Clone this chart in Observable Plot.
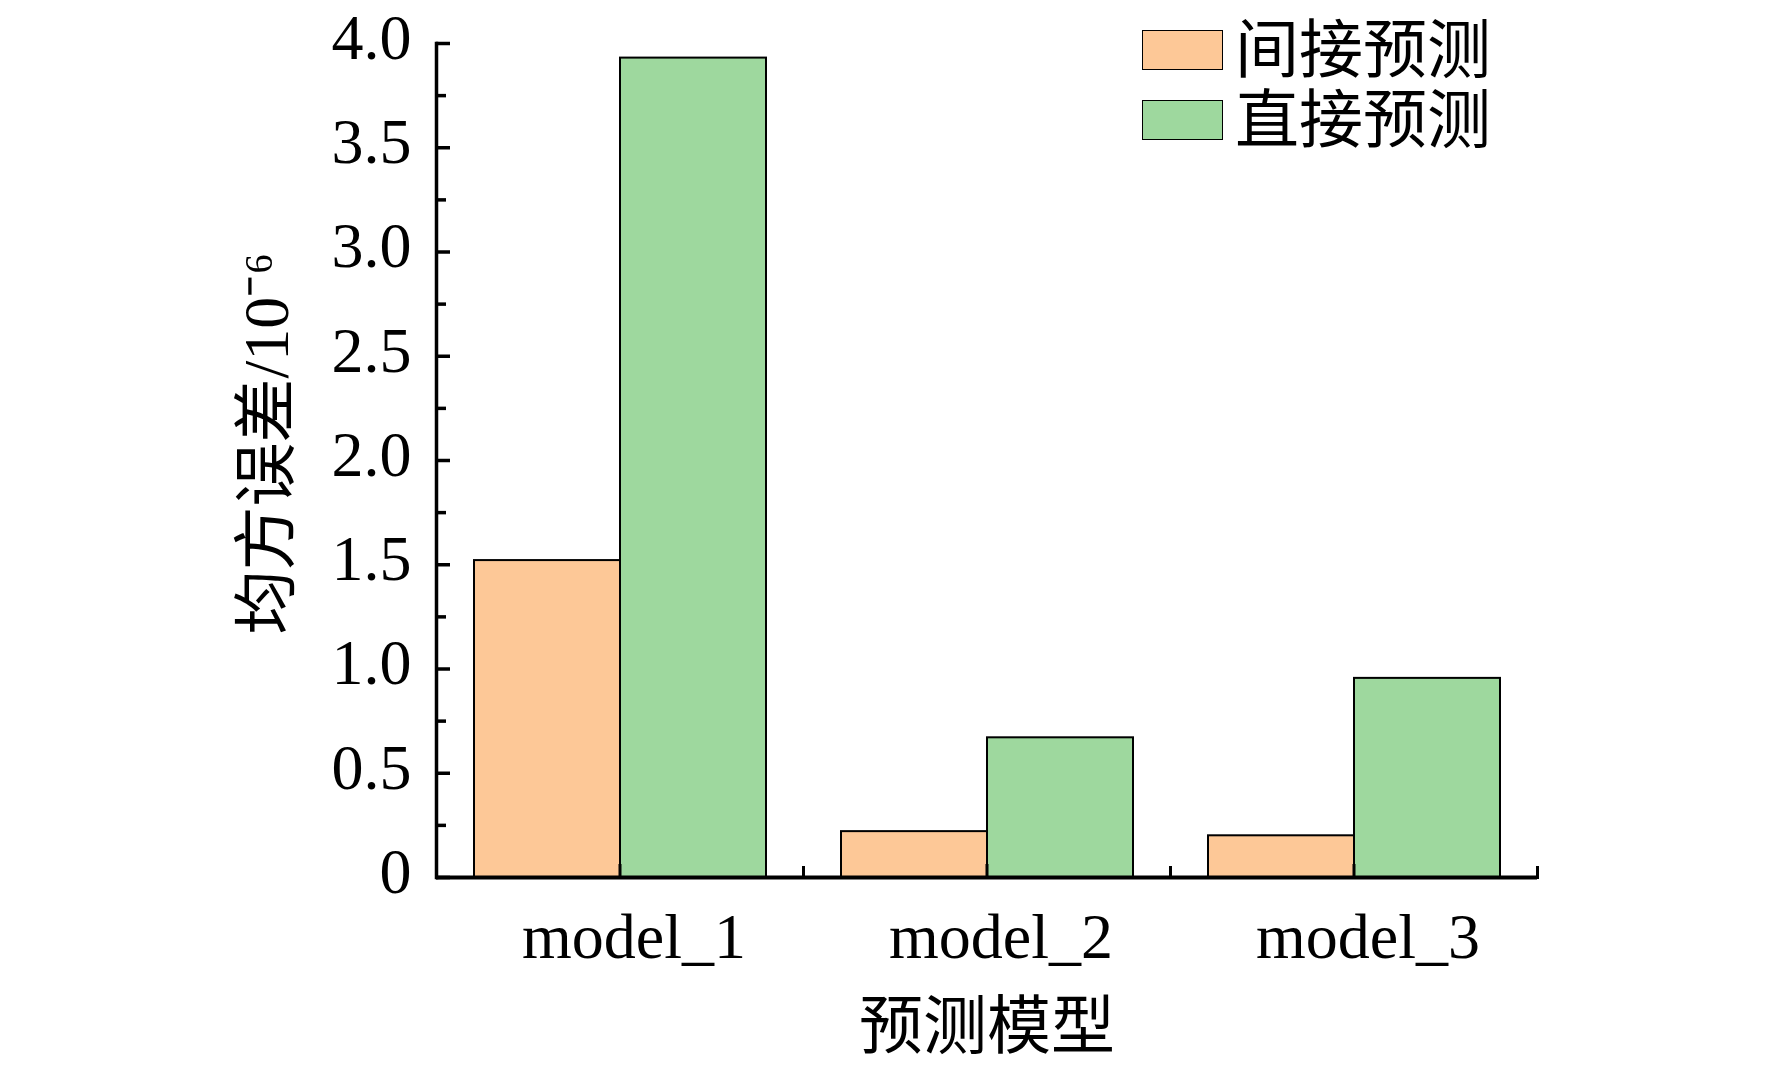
<!DOCTYPE html>
<html>
<head>
<meta charset="utf-8">
<script src="https://cdn.jsdelivr.net/npm/d3@7"></script>
<script src="https://cdn.jsdelivr.net/npm/@observablehq/plot@0.6"></script>
<style>
  html, body { margin: 0; padding: 0; background: white; }
  #wrap { position: relative; width: 1772px; height: 1072px; overflow: hidden; }
  #legend { position: absolute; left: 1142px; top: 29px; font-family: "Noto Sans CJK SC", sans-serif; font-size: 64px; color: black; }
  .row { position: absolute; left: 0; height: 41px; display: flex; align-items: center; white-space: nowrap; }
  .sw { width: 79px; height: 38px; border: 1.5px solid black; box-sizing: content-box; margin-right: 12px; flex: none; }
  .lab { line-height: 60px; position: relative; top: -6px; }
</style>
</head>
<body>
<div id="wrap">
  <div id="chart"></div>
  <div id="legend"></div>
</div>
<script>
const models = ["model_1", "model_2", "model_3"];
const series = ["间接预测", "直接预测"];
const indirect = [1.52, 0.22, 0.20];
const direct = [3.93, 0.67, 0.955];
const colors = ["#FDC897", "#9ED89E"];
const yTicks = [0, 0.5, 1, 1.5, 2, 2.5, 3, 3.5, 4];
const yTickLabels = ["0", "0.5", "1.0", "1.5", "2.0", "2.5", "3.0", "3.5", "4.0"];
const yMinorTicks = [0.25, 0.75, 1.25, 1.75, 2.25, 2.75, 3.25, 3.75];
const xTitle = "预测模型";
const yTitle = "均方误差/10⁻⁶";

const values = [indirect, direct];
const data = models.flatMap((m, i) => series.map((s, j) => ({model: m, series: s, value: values[j][i]})));

const chart = Plot.plot({
  width: 1772,
  height: 1072,
  marginLeft: 435,
  marginRight: 235,
  marginTop: 43,
  marginBottom: 195,
  style: {fontFamily: "'Liberation Serif', 'Noto Sans CJK SC', serif", fontSize: "64px", color: "black", background: "white", overflow: "visible"},
  fx: {domain: models, paddingInner: 0, paddingOuter: 0, label: null},
  x: {domain: series, paddingInner: 0, paddingOuter: 0.25, axis: null},
  y: {domain: [0, 4], axis: null},
  color: {domain: series, range: colors},
  marks: [
    Plot.barY(data, {fx: "model", x: "series", y: "value", fill: "series", stroke: "black", strokeWidth: 2}),
    Plot.ruleY([0], {stroke: "black", strokeWidth: 4}),
    Plot.frame({anchor: "left", facetAnchor: "left", stroke: "black", strokeWidth: 3.5}),
    Plot.frame({anchor: "right", insetTop: 824, stroke: "black", strokeWidth: 3}),
    Plot.axisY({ticks: yTicks, tickSize: -14, tickFormat: () => "", strokeWidth: 3.5, label: null}),
    Plot.axisY({ticks: yMinorTicks, tickSize: -10, tickFormat: () => "", strokeWidth: 3.5, label: null}),
    Plot.axisY({ticks: yTicks, tickSize: 0, tickPadding: 25, dy: -5, fontSize: 64,
      tickFormat: d => yTickLabels[yTicks.indexOf(d)], label: null}),
    Plot.axisFx({anchor: "bottom", tickSize: -13, tickFormat: () => "", strokeWidth: 3, label: null}),
    Plot.axisFx({anchor: "bottom", tickSize: 0, tickPadding: 35, dx: 14, fontSize: 64, label: xTitle, labelAnchor: "center", labelOffset: 170, labelArrow: "none"}),
    Plot.text([yTitle], {facetAnchor: "left", frameAnchor: "left", textAnchor: "middle", rotate: -90, dx: -169, dy: -17, fontSize: 64, fill: "black"})
  ]
});
document.getElementById("chart").appendChild(chart);

const color = chart.scale("color");
const legend = document.getElementById("legend");
series.forEach((s, i) => {
  const row = document.createElement("div");
  row.className = "row";
  row.style.top = (i * 70) + "px";
  const sw = document.createElement("div");
  sw.className = "sw";
  sw.style.background = color.apply(s);
  const lab = document.createElement("span");
  lab.className = "lab";
  lab.textContent = s;
  row.appendChild(sw);
  row.appendChild(lab);
  legend.appendChild(row);
});
</script>
</body>
</html>
